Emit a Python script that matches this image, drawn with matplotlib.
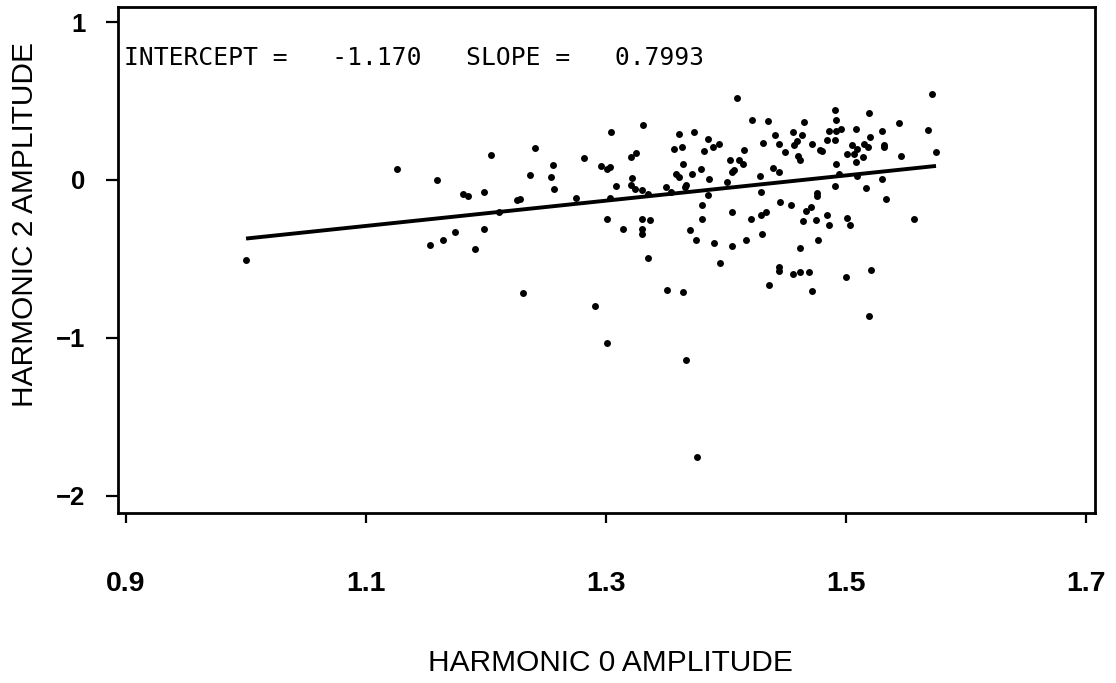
import matplotlib
matplotlib.use('Agg')
import matplotlib.pyplot as plt

# harmonic amplitudes
harm0 = [1.000, 1.301, 1.367, 1.376,
         1.126, 1.159, 1.204, 1.241, 1.256, 1.237, 1.254, 1.257, 1.181, 1.185, 1.198,
         1.226, 1.228, 1.275, 1.174, 1.198, 1.164, 1.153, 1.191, 1.231, 1.211,
         1.409, 1.422, 1.435, 1.331, 1.304, 1.361, 1.373, 1.385, 1.389, 1.394, 1.382,
         1.357, 1.363, 1.415, 1.431, 1.282, 1.321, 1.325, 1.296, 1.301, 1.303, 1.364,
         1.379, 1.403, 1.411, 1.414, 1.405, 1.407, 1.358, 1.361, 1.372, 1.322, 1.308,
         1.321, 1.324, 1.330, 1.335, 1.350, 1.354, 1.366, 1.367, 1.386, 1.401, 1.428,
         1.385, 1.303, 1.429, 1.301, 1.314, 1.330, 1.337, 1.330, 1.330, 1.380, 1.380,
         1.405, 1.421, 1.429, 1.433, 1.370, 1.375, 1.390, 1.405, 1.417, 1.430, 1.335,
         1.395, 1.351, 1.364, 1.291, 1.436,
         1.572, 1.491, 1.519, 1.492, 1.465, 1.544, 1.441, 1.456, 1.463, 1.486, 1.492,
         1.496, 1.508, 1.530, 1.568, 1.520, 1.444, 1.449, 1.457, 1.459, 1.472, 1.484,
         1.491, 1.478, 1.480, 1.505, 1.509, 1.515, 1.518, 1.501, 1.507, 1.532, 1.532,
         1.575, 1.460, 1.462, 1.514, 1.546, 1.508, 1.492, 1.439, 1.444, 1.494, 1.509,
         1.530, 1.491, 1.517, 1.476, 1.476, 1.533, 1.445, 1.454, 1.467, 1.471, 1.464,
         1.475, 1.484, 1.486, 1.501, 1.503, 1.557, 1.477, 1.462, 1.444, 1.444, 1.456,
         1.462, 1.469, 1.500, 1.521, 1.472, 1.519]
harm2 = [-0.506, -1.030, -1.141, -1.753,
         0.070, 0.000, 0.158, 0.204, 0.097, 0.034, 0.017, -0.057, -0.089, -0.099, -0.076,
         -0.128, -0.118, -0.112, -0.327, -0.312, -0.380, -0.411, -0.439, -0.717, -0.201,
         0.519, 0.380, 0.373, 0.346, 0.304, 0.293, 0.304, 0.259, 0.211, 0.226, 0.184,
         0.194, 0.211, 0.188, 0.236, 0.141, 0.147, 0.173, 0.087, 0.068, 0.082, 0.101,
         0.072, 0.125, 0.125, 0.099, 0.051, 0.065, 0.038, 0.019, 0.040, 0.011, -0.036,
         -0.034, -0.057, -0.065, -0.089, -0.044, -0.074, -0.042, -0.032, 0.004, -0.011, 0.027,
         -0.093, -0.116, -0.078, -0.247, -0.310, -0.249, -0.253, -0.312, -0.344, -0.156, -0.249,
         -0.201, -0.249, -0.223, -0.204, -0.316, -0.380, -0.397, -0.418, -0.382, -0.344, -0.492,
         -0.527, -0.696, -0.707, -0.797, -0.666,
         0.544, 0.443, 0.422, 0.382, 0.365, 0.363, 0.287, 0.304, 0.287, 0.308, 0.308,
         0.325, 0.323, 0.310, 0.315, 0.274, 0.226, 0.179, 0.222, 0.249, 0.230, 0.255,
         0.251, 0.192, 0.185, 0.223, 0.198, 0.230, 0.209, 0.165, 0.166, 0.222, 0.207,
         0.179, 0.154, 0.128, 0.146, 0.152, 0.112, 0.103, 0.074, 0.051, 0.038, 0.023,
         0.008, -0.036, -0.051, -0.084, -0.099, -0.118, -0.139, -0.156, -0.196, -0.173, -0.261,
         -0.255, -0.223, -0.287, -0.239, -0.285, -0.247, -0.378, -0.428, -0.553, -0.574, -0.595,
         -0.580, -0.584, -0.616, -0.572, -0.704, -0.859]

intercept = -1.170
slope = 0.7993

xticks = [0.9, 1.1, 1.3, 1.5, 1.7]
yticks = [-2, -1, 0, 1]

plt.rcParams['font.family'] = ['Liberation Sans', 'DejaVu Sans']

W, H = 1116, 683
fig = plt.figure(figsize=(W / 100, H / 100), dpi=100)
ax = fig.add_axes([118 / W, (H - 513) / H, 977 / W, 506 / H])

ax.scatter(harm0, harm2, s=25, c='black', linewidths=0, zorder=3)

# fitted line over the range of the data
x0, x1 = min(harm0), max(harm0)
ax.plot([x0, x1], [intercept + slope * x0, intercept + slope * x1],
        color='black', lw=2.8, solid_capstyle='butt', zorder=2)

ax.set_xlim(0.8933, 1.7075)
ax.set_ylim(-2.108, 1.095)
ax.set_xticks(xticks)
ax.set_xticklabels([f'{t:.1f}' for t in xticks])
ax.set_yticks(yticks)
ax.set_yticklabels(['\u22122', '\u22121', '0', '1'])

for s in ax.spines.values():
    s.set_linewidth(2.0)
    s.set_color('black')

ax.tick_params(axis='x', direction='out', length=7.5, width=1.6, pad=34,
               labelsize=20.5)
ax.tick_params(axis='y', direction='out', length=8.5, width=1.6, pad=15,
               labelsize=18.5)
for lab in ax.get_xticklabels() + ax.get_yticklabels():
    lab.set_fontweight('bold')

ax.text(6 / 977, 1 - 58 / 506,
        'INTERCEPT =   %.3f   SLOPE =   %.4f' % (intercept, slope),
        transform=ax.transAxes, family='DejaVu Sans Mono', fontsize=17.7,
        ha='left', va='baseline')

fig.text(610 / W, 1 - 663 / H, 'HARMONIC 0 AMPLITUDE', fontsize=21.5,
         ha='center', va='center')
fig.text(25 / W, 1 - 225 / H, 'HARMONIC 2 AMPLITUDE', fontsize=21.5,
         ha='center', va='center', rotation=90)

fig.savefig('out.png', dpi=100, facecolor='white')
print('Saved out.png')
